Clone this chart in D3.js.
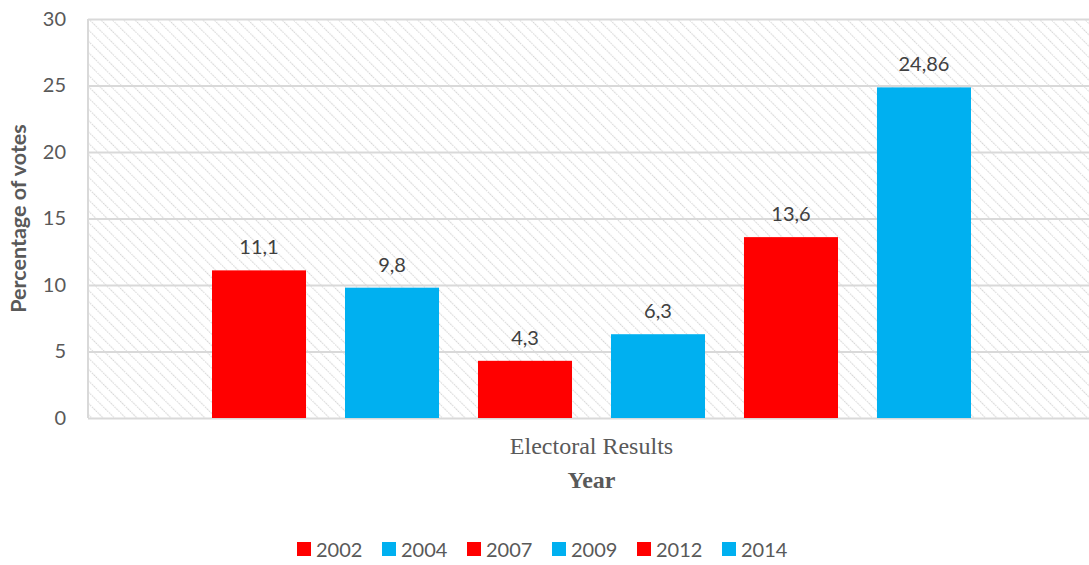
<!DOCTYPE html>
<html>
<head>
<meta charset="utf-8">
<script src="https://cdn.jsdelivr.net/npm/d3@7"></script>
<style>
  body { margin: 0; background: #fff; }
  svg { display: block; }
</style>
</head>
<body>
<svg id="chart"></svg>
<script>
// Data
const group = ["Electoral Results"];
const years = ["2002", "2004", "2007", "2009", "2012", "2014"];
const votes = [11.1, 9.8, 4.3, 6.3, 13.6, 24.86];
const labels = ["11,1", "9,8", "4,3", "6,3", "13,6", "24,86"];
const colors = ["#ff0000", "#00b0f0", "#ff0000", "#00b0f0", "#ff0000", "#00b0f0"];
const yTicks = [0, 5, 10, 15, 20, 25, 30];

const width = 1089, height = 565;
const margin = { top: 19, right: -5, bottom: 147, left: 88 };
const innerW = width - margin.left - margin.right;
const innerH = height - margin.top - margin.bottom;

const sansFont = 'Lato, "Open Sans", sans-serif';
const serifFont = '"Liberation Serif", "Times New Roman", serif';

const svg = d3.select('#chart').attr('width', width).attr('height', height);

// hatch pattern for plot background (lines running top-left to bottom-right)
const defs = svg.append('defs');
const pat = defs.append('pattern')
  .attr('id', 'hatch')
  .attr('patternUnits', 'userSpaceOnUse')
  .attr('width', 8).attr('height', 8)
  .attr('patternTransform', 'rotate(-45)');
pat.append('rect').attr('width', 8).attr('height', 8).attr('fill', '#fff');
pat.append('line')
  .attr('x1', 0).attr('y1', 0).attr('x2', 0).attr('y2', 8)
  .attr('stroke', '#d6d6d6').attr('stroke-width', 2.2)
  .attr('stroke-dasharray', '1.5,1');

const chart = svg.append('g')
  .attr('transform', `translate(${margin.left},${margin.top})`);

const x0 = d3.scaleBand().domain(group).range([0, innerW]);
const x1 = d3.scaleBand().domain(years)
  .range([124, innerW - 123])
  .paddingInner(0.293);
const y = d3.scaleLinear().domain([0, 30]).range([innerH, 0]);

chart.append('rect')
  .attr('width', innerW).attr('height', innerH)
  .attr('fill', 'url(#hatch)');

// gridlines + tick labels
const yAxis = d3.axisLeft(y).tickValues(yTicks).tickSize(-innerW).tickPadding(22).tickFormat(d => d);
chart.append('g')
  .attr('class', 'axis y-axis')
  .call(yAxis)
  .call(g => g.select('.domain').remove())
  .call(g => g.selectAll('.tick line').attr('stroke', '#d9d9d9').attr('stroke-width', 2))
  .call(g => g.selectAll('.tick text')
    .attr('fill', '#595959')
    .style('font-family', sansFont)
    .style('font-size', '20px'));

// left border
chart.append('line')
  .attr('x1', 0).attr('x2', 0).attr('y1', 0).attr('y2', innerH)
  .attr('stroke', '#d9d9d9').attr('stroke-width', 2);

// bars
chart.selectAll('.bar')
  .data(years)
  .enter()
  .append('rect')
  .attr('class', 'bar')
  .attr('x', d => x0(group[0]) + x1(d))
  .attr('width', x1.bandwidth())
  .attr('y', (d, i) => y(votes[i]))
  .attr('height', (d, i) => innerH - y(votes[i]))
  .attr('fill', (d, i) => colors[i]);

// value labels
chart.selectAll('.value')
  .data(years)
  .enter()
  .append('text')
  .attr('class', 'value')
  .attr('x', d => x0(group[0]) + x1(d) + x1.bandwidth() / 2)
  .attr('y', (d, i) => y(votes[i]) - 16)
  .attr('text-anchor', 'middle')
  .attr('fill', '#404040')
  .style('font-family', sansFont)
  .style('font-size', '20px')
  .text((d, i) => labels[i]);

// category label & axis title
const cx = x0(group[0]) + x1.range()[0] + (x1.range()[1] - x1.range()[0]) / 2;
chart.append('text')
  .attr('x', cx).attr('y', innerH + 36)
  .attr('text-anchor', 'middle')
  .attr('fill', '#595959')
  .style('font-family', serifFont)
  .style('font-size', '24px')
  .text(group[0]);

chart.append('text')
  .attr('x', cx).attr('y', innerH + 70)
  .attr('text-anchor', 'middle')
  .attr('fill', '#595959')
  .style('font-family', serifFont)
  .style('font-weight', 'bold')
  .style('font-size', '24px')
  .text('Year');

svg.append('text')
  .attr('transform', `translate(26,${margin.top + innerH / 2}) rotate(-90)`)
  .attr('text-anchor', 'middle')
  .attr('fill', '#595959')
  .style('font-family', sansFont)
  .style('font-weight', 'bold')
  .style('font-size', '21.5px')
  .text('Percentage of votes');

// legend
const legend = svg.append('g').attr('transform', 'translate(297,542)');
const item = legend.selectAll('.legend-item')
  .data(years)
  .enter()
  .append('g')
  .attr('class', 'legend-item')
  .attr('transform', (d, i) => `translate(${i * 85},0)`);
item.append('rect')
  .attr('width', 14).attr('height', 14)
  .attr('fill', (d, i) => colors[i]);
item.append('text')
  .attr('x', 19).attr('y', 14.5)
  .attr('fill', '#595959')
  .style('font-family', sansFont)
  .style('font-size', '20px')
  .text(d => d);
</script>
</body>
</html>
